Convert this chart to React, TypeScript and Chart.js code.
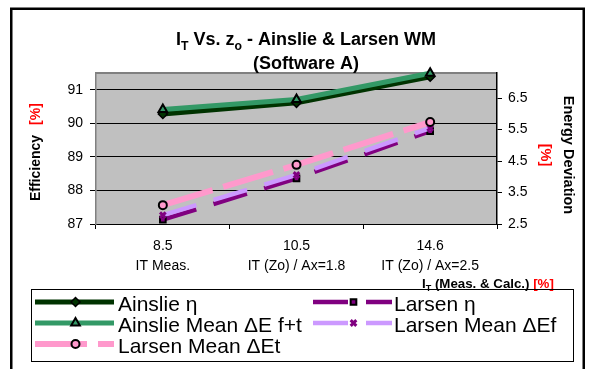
import { useEffect, useRef } from "react";
import { Chart, registerables } from "chart.js";
import { drawPoint } from "chart.js/helpers";

Chart.register(...registerables);

// Category values on the x axis and the note printed under each one
const categories = ["8.5", "10.5", "14.6"];
const categoryNotes = ["IT Meas.", "IT (Zo) / Ax=1.8", "IT (Zo) / Ax=2.5"];

// Efficiency series (left axis, %)
const ainslieEta = [90.28, 90.61, 91.39];
const larsenEta = [87.13, 88.36, 89.77];

// Energy deviation series (right axis, %)
const ainslieMeanDEft = [6.14, 6.46, 7.29];
const larsenMeanDEf = [2.78, 4.06, 5.55];
const larsenMeanDEt = [3.1, 4.38, 5.74];

// Axis ticks and ranges
const efficiencyTicks = [87, 88, 89, 90, 91];
const deviationTicks = [2.5, 3.5, 4.5, 5.5, 6.5];
const efficiencyRange = [87, 91.5];
const deviationRange = [2.5, 7.3];

const FONT = "'Liberation Sans', Arial, Helvetica, sans-serif";

type Series = {
  label: string;
  data: number[];
  axis: "y" | "y1";
  line: string;
  width: number;
  dash: number[];
  marker: string;
  fill: string;
  stroke: string;
  markerWidth: number;
  radius: number;
};

const series: Series[] = [
  { label: "Ainslie η", data: ainslieEta, axis: "y", line: "#003300", width: 5, dash: [], marker: "rectRot", fill: "#003300", stroke: "#000000", markerWidth: 1.5, radius: 4.5 },
  { label: "Larsen η", data: larsenEta, axis: "y", line: "#800080", width: 4.5, dash: [35, 18], marker: "rect", fill: "#800080", stroke: "#000000", markerWidth: 2, radius: 4 },
  { label: "Ainslie Mean ΔE f+t", data: ainslieMeanDEft, axis: "y1", line: "#339966", width: 5, dash: [], marker: "triangle", fill: "#339966", stroke: "#000000", markerWidth: 2, radius: 5 },
  { label: "Larsen Mean ΔEf", data: larsenMeanDEf, axis: "y1", line: "#CC99FF", width: 4.5, dash: [35, 18], marker: "crossRot", fill: "#800080", stroke: "#800080", markerWidth: 3, radius: 4 },
  { label: "Larsen Mean ΔEt", data: larsenMeanDEt, axis: "y1", line: "#FF99CC", width: 6, dash: [52, 11], marker: "circle", fill: "#FF99CC", stroke: "#000000", markerWidth: 2, radius: 4 },
];

type Part = { text: string; sub?: boolean; color?: string };

// Draws a run of text pieces (with optional subscripts) starting at x
function drawParts(ctx: CanvasRenderingContext2D, parts: Part[], x: number, y: number, size: number, weight: string, align: "left" | "center") {
  const subSize = size * 0.68;
  const widths = parts.map((p) => {
    ctx.font = `${weight} ${p.sub ? subSize : size}px ${FONT}`;
    return ctx.measureText(p.text).width;
  });
  const total = widths.reduce((a, b) => a + b, 0);
  let cx = align === "center" ? x - total / 2 : x;
  ctx.textAlign = "left";
  ctx.textBaseline = "alphabetic";
  parts.forEach((p, i) => {
    ctx.font = `${weight} ${p.sub ? subSize : size}px ${FONT}`;
    ctx.fillStyle = p.color || "#000";
    ctx.fillText(p.text, cx, p.sub ? y + size * 0.25 : y);
    cx += widths[i];
  });
}

function drawMarker(ctx: CanvasRenderingContext2D, s: Series, x: number, y: number) {
  ctx.save();
  ctx.setLineDash([]);
  ctx.fillStyle = s.fill;
  ctx.strokeStyle = s.stroke;
  ctx.lineWidth = s.markerWidth;
  drawPoint(ctx, { pointStyle: s.marker as any, radius: s.radius, rotation: 0, borderWidth: s.markerWidth }, x, y);
  ctx.restore();
}

const decor = {
  id: "decor",
  beforeDraw(chart: Chart) {
    const { ctx, chartArea: a } = chart;
    ctx.save();
    ctx.fillStyle = "#fff";
    ctx.fillRect(0, 0, chart.width, chart.height);
    ctx.fillStyle = "#C0C0C0";
    ctx.fillRect(a.left, a.top, a.right - a.left, a.bottom - a.top);
    ctx.strokeStyle = "#808080";
    ctx.lineWidth = 2;
    ctx.beginPath();
    ctx.moveTo(a.left, a.top);
    ctx.lineTo(a.right, a.top);
    ctx.stroke();
    ctx.restore();
  },
  afterDraw(chart: Chart) {
    const { ctx } = chart;
    ctx.save();

    // Title
    drawParts(ctx, [
      { text: "I" }, { text: "T", sub: true }, { text: " Vs. z" }, { text: "o", sub: true }, { text: " - Ainslie & Larsen WM" },
    ], 306, 45, 18, "bold", "center");
    drawParts(ctx, [{ text: "(Software A)" }], 306, 69, 18, "bold", "center");

    // Left axis title
    ctx.save();
    ctx.translate(36, 153);
    ctx.rotate(-Math.PI / 2);
    ctx.font = `bold 14px ${FONT}`;
    ctx.textBaseline = "middle";
    ctx.textAlign = "center";
    ctx.fillStyle = "#000";
    ctx.fillText("Efficiency", -15, 0);
    ctx.fillStyle = "#FF0000";
    ctx.fillText("[%]", 39, 0);
    ctx.restore();

    // Right axis title
    ctx.save();
    ctx.translate(568, 155);
    ctx.rotate(Math.PI / 2);
    ctx.font = `bold 14.5px ${FONT}`;
    ctx.textBaseline = "middle";
    ctx.textAlign = "center";
    ctx.fillStyle = "#000";
    ctx.fillText("Energy Deviation", 0, 0);
    ctx.fillStyle = "#FF0000";
    ctx.fillText("[%]", 0, 23);
    ctx.restore();

    // X axis title
    drawParts(ctx, [
      { text: "I" }, { text: "T", sub: true }, { text: " (Meas. & Calc.) " }, { text: "[%]", color: "#FF0000" },
    ], 422, 288, 13.3, "bold", "left");

    // Legend box
    ctx.strokeStyle = "#000";
    ctx.lineWidth = 1;
    ctx.setLineDash([]);
    ctx.strokeRect(31.5, 289.5, 542, 72);

    const slots = [
      { x0: 35, x1: 114, tx: 118, y: 302 },
      { x0: 313, x1: 392, tx: 394, y: 302 },
      { x0: 35, x1: 114, tx: 118, y: 323 },
      { x0: 313, x1: 392, tx: 394, y: 323 },
      { x0: 35, x1: 114, tx: 118, y: 344 },
    ];
    series.forEach((s, i) => {
      const slot = slots[i];
      ctx.save();
      ctx.beginPath();
      ctx.rect(slot.x0, slot.y - 10, slot.x1 - slot.x0, 20);
      ctx.clip();
      ctx.strokeStyle = s.line;
      ctx.lineWidth = s.width;
      ctx.setLineDash(s.dash);
      ctx.beginPath();
      ctx.moveTo(slot.x0, slot.y);
      ctx.lineTo(slot.x1, slot.y);
      ctx.stroke();
      ctx.restore();
      drawMarker(ctx, s, (slot.x0 + slot.x1) / 2 + 1, slot.y);
      ctx.font = `21px ${FONT}`;
      ctx.fillStyle = "#000";
      ctx.textAlign = "left";
      ctx.textBaseline = "middle";
      ctx.fillText(s.label, slot.tx, slot.y + 3);
    });

    // Outer frame
    ctx.strokeStyle = "#000";
    ctx.lineWidth = 2.5;
    ctx.strokeRect(11.25, 8.75, 572.5, 400);
    ctx.restore();
  },
};

export default function App() {
  const canvasRef = useRef<HTMLCanvasElement>(null);

  useEffect(() => {
    const canvas = canvasRef.current;
    if (!canvas) return;
    const chart = new Chart(canvas, {
      type: "line",
      data: {
        labels: categories.map((c, i) => [c, categoryNotes[i]]),
        datasets: series.map((s, i) => ({
          label: s.label,
          data: s.data,
          yAxisID: s.axis,
          borderColor: s.line,
          backgroundColor: s.line,
          borderWidth: s.width,
          borderDash: s.dash,
          tension: 0,
          fill: false,
          clip: false as any,
          order: series.length - i,
          pointStyle: s.marker as any,
          pointRadius: s.radius,
          pointBackgroundColor: s.fill,
          pointBorderColor: s.stroke,
          pointBorderWidth: s.markerWidth,
        })),
      },
      options: {
        animation: false,
        responsive: false,
        devicePixelRatio: 1,
        layout: { padding: { top: 73, left: 0, right: 0, bottom: 0 } },
        plugins: { legend: { display: false }, title: { display: false }, tooltip: { enabled: false } },
        scales: {
          x: {
            type: "category",
            offset: true,
            grid: { offset: true, drawOnChartArea: false, color: "#000", tickColor: "#000", tickLength: 5 },
            border: { color: "#000", width: 1 },
            ticks: {
              color: "#000",
              font: { family: FONT, size: 14, lineHeight: 1.43 },
              padding: 7,
              maxRotation: 0,
              autoSkip: false,
            },
            afterFit: (scale: any) => { scale.height = 145; },
          },
          y: {
            position: "left",
            min: efficiencyRange[0],
            max: efficiencyRange[1],
            afterBuildTicks: (scale: any) => { scale.ticks = efficiencyTicks.map((value) => ({ value })); },
            grid: { color: "#000", tickColor: "#000", tickLength: 6, lineWidth: 1 },
            border: { color: "#808080", width: 1.5 },
            ticks: { color: "#000", font: { family: FONT, size: 14 }, padding: 7, callback: (v: any) => String(v) },
            afterFit: (scale: any) => { scale.width = 96; },
          },
          y1: {
            position: "right",
            min: deviationRange[0],
            max: deviationRange[1],
            afterBuildTicks: (scale: any) => { scale.ticks = deviationTicks.map((value) => ({ value })); },
            grid: { drawOnChartArea: false, color: "#000", tickColor: "#000", tickLength: 5 },
            border: { color: "#000", width: 1.5 },
            ticks: { color: "#000", font: { family: FONT, size: 14 }, padding: 6, callback: (v: any) => Number(v).toFixed(1) },
            afterFit: (scale: any) => { scale.width = 92; },
          },
        },
      },
      plugins: [decor],
    });
    return () => chart.destroy();
  }, []);

  return (
    <div style={{ position: "fixed", left: 0, top: 0, width: 589, height: 369, background: "#fff" }}>
      <canvas ref={canvasRef} width={589} height={369} style={{ display: "block", width: 589, height: 369 }} />
    </div>
  );
}
